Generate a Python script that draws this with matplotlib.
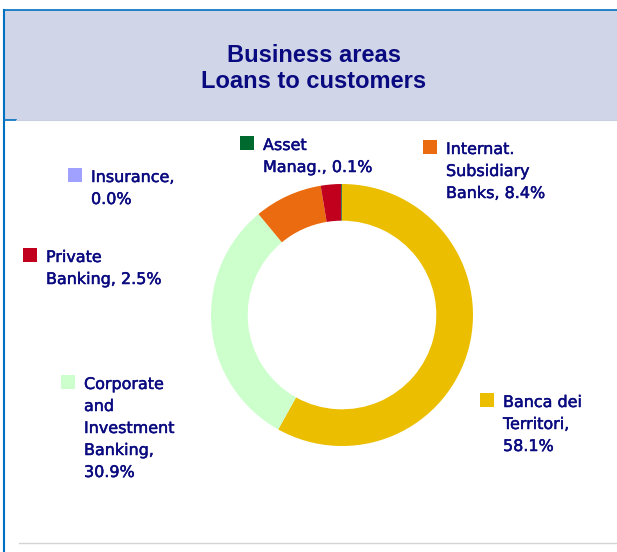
import matplotlib.pyplot as plt
import matplotlib.patheffects as pe
from matplotlib.patches import Rectangle

# data
areas = ['Banca dei\nTerritori,', 'Corporate\nand\nInvestment\nBanking,', 'Insurance,',
         'Internat.\nSubsidiary\nBanks,', 'Private\nBanking,', 'Asset\nManag.,']
shares = [58.1, 30.9, 0.0, 8.4, 2.5, 0.1]
colors = ['#EBBE00', '#CCFFCC', '#A0A0FF', '#EB6C10', '#C0001C', '#006A2E']
label_fmt = ['{}\n{:.1f}%', '{}\n{:.1f}%', '{}\n{:.1f}%', '{} {:.1f}%', '{} {:.1f}%', '{} {:.1f}%']

# label layout in pixels: (square left x, first baseline y)
label_pos = [(480, 407), (61, 389), (68, 182), (423, 154), (23, 262), (240, 150)]
line_step = 22

W, H = 617, 552
navy = '#0A0A80'
fig = plt.figure(figsize=(W / 100, H / 100), dpi=100)

bg = fig.add_axes([0, 0, 1, 1])
bg.set_xlim(0, W)
bg.set_ylim(H, 0)
bg.axis('off')

# header band + frame
bg.add_patch(Rectangle((4, 10), W - 4, 110, facecolor='#D0D6E8', edgecolor='none'))
bg.plot([4, W], [10, 10], color='#0070C0', lw=1.2)
bg.plot([4, 4], [10, H], color='#0070C0', lw=1.5)
bg.plot([4, 16], [120, 120], color='#0070C0', lw=1.2)
bg.plot([16, W], [120, 120], color='#C8D0E4', lw=0.8)
bg.plot([19, W], [543, 543], color='#D4D4D4', lw=1.0)

bg.text(314, 62, 'Business areas', ha='center', va='baseline', fontsize=17,
        fontweight='bold', family='Liberation Sans', color=navy)
bg.text(314, 88, 'Loans to customers', ha='center', va='baseline', fontsize=17,
        fontweight='bold', family='Liberation Sans', color=navy)

# donut
cx, cy, r = 342, 315, 131
pax = fig.add_axes([(cx - r) / W, (H - cy - r) / H, 2 * r / W, 2 * r / H])
pax.pie(shares, colors=colors, startangle=90, counterclock=False, radius=1,
        wedgeprops=dict(width=0.28, edgecolor='none', linewidth=0))
pax.set_xlim(-1, 1)
pax.set_ylim(-1, 1)

# labels with colour squares
thick = [pe.withStroke(linewidth=0.35, foreground=navy)]
for name, val, col, fmt, (x, y) in zip(areas, shares, colors, label_fmt, label_pos):
    bg.add_patch(Rectangle((x, y - 14), 14, 14, facecolor=col, edgecolor='none'))
    for i, line in enumerate(fmt.format(name, val).split('\n')):
        bg.text(x + 23, y + i * line_step, line, ha='left', va='baseline',
                fontsize=11.5, family='DejaVu Sans', color=navy, path_effects=thick)

fig.savefig('out.png', dpi=100)
